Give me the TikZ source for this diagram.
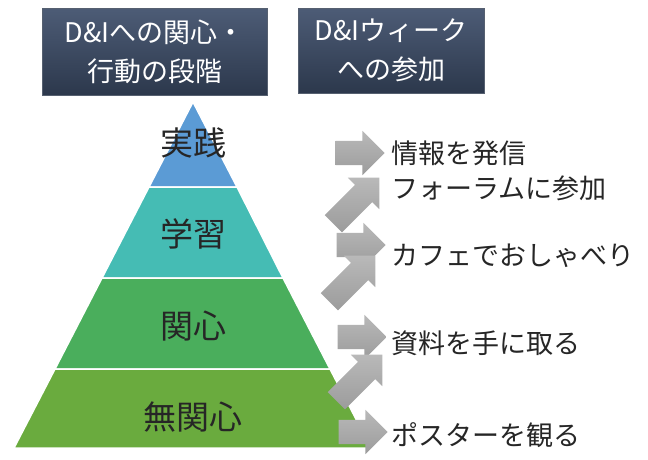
\documentclass[tikz,border=0pt]{standalone}
\usepackage{fontspec}
\usepackage{tikz}
\usetikzlibrary{shapes}
\usetikzlibrary{shapes.arrows}
\usetikzlibrary{positioning}
\newfontfamily\jpfont{Noto Sans CJK JP}
\definecolor{slatetop}{HTML}{4D5C76}
\definecolor{slatebot}{HTML}{2C384C}
\definecolor{practice}{HTML}{5B9BD5}
\definecolor{learning}{HTML}{45BCB4}
\definecolor{interest}{HTML}{4AAE5C}
\definecolor{nointerest}{HTML}{6AAB3E}
\tikzstyle{header}=[rectangle,draw=slatebot!80,top color=slatetop,bottom color=slatebot,text=white,align=center,inner sep=0mm,font=\jpfont\fontsize{27}{39}\selectfont]
\tikzstyle{level}=[draw=white,line width=1.5pt]
\tikzstyle{stage}=[text=black!85,inner sep=0mm,font=\jpfont\fontsize{33}{33}\selectfont]
\tikzstyle{blockarrow}=[single arrow,top color=gray!55,bottom color=gray!78,draw=none,minimum height=49pt,inner xsep=0pt,inner ysep=12pt,single arrow head extend=10pt]
\tikzstyle{action}=[anchor=west,inner sep=0mm,text=black!85,font=\jpfont\fontsize{27}{27}\selectfont]

\begin{document}
\begin{tikzpicture}[x=1pt,y=-1pt]
      \useasboundingbox (0,0) rectangle (648,459);
      % headers
      \node[header,minimum width=225pt,minimum height=87pt] at (154.5,51.5) (stages) {D\&Iへの関心・\\行動の段階};
      \node[header,minimum width=186pt,minimum height=85pt] at (391,50.5) (week) {D\&Iウィーク\\への参加};
      % pyramid
      \path[level,fill=practice] (193,102) -- (237,187) -- (149,187) -- cycle;
      \path[level,fill=learning] (149,187) -- (237,187) -- (283,278) -- (102,278) -- cycle;
      \path[level,fill=interest] (102,278) -- (283,278) -- (330,369) -- (55,369) -- cycle;
      \path[level,fill=nointerest] (55,369) -- (330,369) -- (371,448) -- (14,448) -- cycle;
      \node[stage] at (193,143) (jissen) {実践};
      \node[stage] at (193,234) (gakushu) {学習};
      \node[stage] at (193,326) (kanshin) {関心};
      \node[stage] at (193,417) (mukanshin) {無関心};
      % steps
      \node[blockarrow] at (354,153) (a1) {};
      \node[blockarrow,rotate=45,minimum height=65pt] at (352,205) (d1) {};
      \node[blockarrow] at (355,245) (a2) {};
      \node[blockarrow,rotate=45,minimum height=65pt] at (348,283) (d2) {};
      \node[blockarrow] at (356,337) (a3) {};
      \node[blockarrow,rotate=45,minimum height=65pt] at (355,382) (d3) {};
      \node[blockarrow] at (357,432) (a4) {};
      % actions
      \node[action] at (391,153) (send) {情報を発信};
      \node[action] at (391,188) (forum) {フォーラムに参加};
      \node[action] at (391,256) (cafe) {カフェでおしゃべり};
      \node[action] at (391,343) (papers) {資料を手に取る};
      \node[action] at (391,435) (poster) {ポスターを観る};
    \end{tikzpicture}
\end{document}
